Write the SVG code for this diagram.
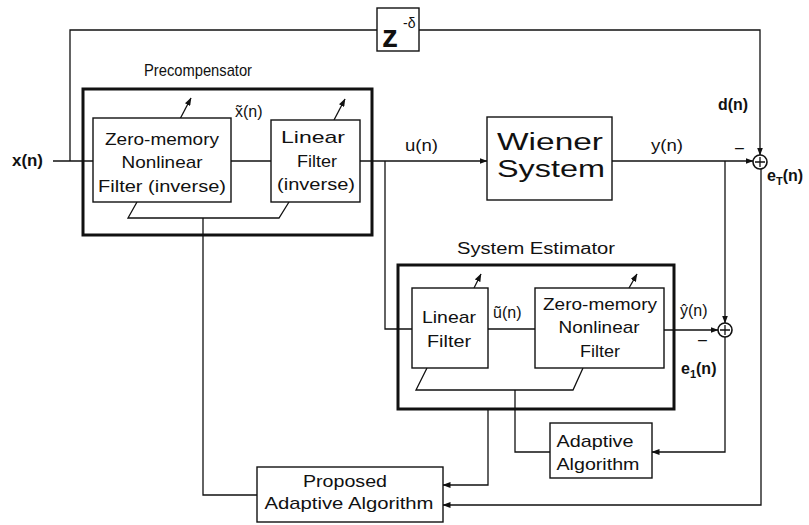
<svg xmlns="http://www.w3.org/2000/svg" width="809" height="525" viewBox="0 0 809 525">
<defs>
<style>
text{font-family:"Liberation Sans",Arial,Helvetica,sans-serif;fill:#111;}
.box{fill:#fff;stroke:#111;stroke-width:1.4;}
.thick{fill:none;stroke:#111;stroke-width:3;}
.w{fill:none;stroke:#111;stroke-width:1.3;}
.bt{font-size:17px;text-anchor:middle;}
.lb{font-size:16px;}
.big{font-size:23px;text-anchor:middle;}
.sum{fill:#fff;stroke:#111;stroke-width:1.6;}
</style>
<marker id="ah" markerWidth="8" markerHeight="6" refX="7.5" refY="3" orient="auto" markerUnits="userSpaceOnUse">
<path d="M0,0 L8,3 L0,6 Z" fill="#111"/>
</marker>
</defs>
<rect width="809" height="525" fill="#fff"/>

<g id="connectors">
<polyline class="w" points="70,161 70,30 377,30"/>
<polyline class="w" points="419,30 760,30 760,155" marker-end="url(#ah)"/>
<line class="w" x1="53" y1="161" x2="93" y2="161"/>
<line class="w" x1="231" y1="161" x2="271" y2="161"/>
<line class="w" x1="360" y1="161" x2="487" y2="161" marker-end="url(#ah)"/>
<polyline class="w" points="385,161 385,329 412,329"/>
<line class="w" x1="612" y1="161" x2="753" y2="161" marker-end="url(#ah)"/>
<line class="w" x1="725" y1="161" x2="725" y2="323" marker-end="url(#ah)"/>
<line class="w" x1="488" y1="329" x2="535" y2="329"/>
<line class="w" x1="664" y1="330" x2="718" y2="330" marker-end="url(#ah)"/>
<polyline class="w" points="725,337 725,452 652,452" marker-end="url(#ah)"/>
<polyline class="w" points="137,202 128,218 279,218 289,202"/>
<polyline class="w" points="203,218 203,495 257,495"/>
<polyline class="w" points="427,368 416,390 573,390 583,368"/>
<polyline class="w" points="515,390 515,452 550,452"/>
<polyline class="w" points="488,409 488,485 443,485" marker-end="url(#ah)"/>
<polyline class="w" points="761,169 761,505 443,505" marker-end="url(#ah)"/>
<line class="w" x1="180" y1="119" x2="191" y2="98" marker-end="url(#ah)"/>
<line class="w" x1="334" y1="120" x2="345" y2="99" marker-end="url(#ah)"/>
<line class="w" x1="474" y1="288" x2="481" y2="274" marker-end="url(#ah)"/>
<line class="w" x1="629" y1="288" x2="637" y2="274" marker-end="url(#ah)"/>
</g>

<g id="precompensator">
<rect class="thick" x="83" y="89" width="289" height="146"/>
<text class="bt" x="198" y="76" textLength="108" lengthAdjust="spacingAndGlyphs">Precompensator</text>
</g>
<g id="zm-inverse">
<rect class="box" x="93" y="118" width="138" height="84"/>
<text class="bt" x="162" y="145" textLength="114" lengthAdjust="spacingAndGlyphs">Zero-memory</text>
<text class="bt" x="162" y="168" textLength="81" lengthAdjust="spacingAndGlyphs">Nonlinear</text>
<text class="bt" x="162" y="192" textLength="128" lengthAdjust="spacingAndGlyphs">Filter (inverse)</text>
</g>
<g id="lf-inverse">
<rect class="box" x="271" y="120" width="89" height="82"/>
<text class="bt" x="313" y="143" textLength="64" lengthAdjust="spacingAndGlyphs">Linear</text>
<text class="bt" x="317" y="167" textLength="40" lengthAdjust="spacingAndGlyphs">Filter</text>
<text class="bt" x="316" y="190" textLength="78" lengthAdjust="spacingAndGlyphs">(inverse)</text>
</g>
<g id="delay">
<rect class="box" x="377" y="8" width="42" height="43"/>
<text x="382" y="47" font-size="32" font-weight="bold">z</text>
<text x="403" y="28" font-size="14">-δ</text>
</g>
<g id="wiener">
<rect class="box" x="487" y="117" width="125" height="83"/>
<text class="big" x="550" y="150" textLength="106" lengthAdjust="spacingAndGlyphs">Wiener</text>
<text class="big" x="551" y="177" textLength="108" lengthAdjust="spacingAndGlyphs">System</text>
</g>
<g id="system-estimator">
<rect class="thick" x="398" y="265" width="276" height="144"/>
<text class="lb" x="457" y="254" textLength="158" lengthAdjust="spacingAndGlyphs">System Estimator</text>
</g>
<g id="lf-se">
<rect class="box" x="412" y="288" width="76" height="80"/>
<text class="bt" x="449" y="323" textLength="54" lengthAdjust="spacingAndGlyphs">Linear</text>
<text class="bt" x="449" y="347" textLength="44" lengthAdjust="spacingAndGlyphs">Filter</text>
</g>
<g id="zm-se">
<rect class="box" x="535" y="288" width="129" height="80"/>
<text class="bt" x="600" y="310" textLength="114" lengthAdjust="spacingAndGlyphs">Zero-memory</text>
<text class="bt" x="599" y="333" textLength="81" lengthAdjust="spacingAndGlyphs">Nonlinear</text>
<text class="bt" x="600" y="357" textLength="40" lengthAdjust="spacingAndGlyphs">Filter</text>
</g>
<g id="sum-t">
<circle class="sum" cx="760" cy="162" r="7"/>
<path class="w" d="M755,162 H765 M760,157 V167"/>
</g>
<g id="sum-1">
<circle class="sum" cx="725" cy="330" r="7"/>
<path class="w" d="M720,330 H730 M725,325 V335"/>
</g>
<g id="adaptive">
<rect class="box" x="550" y="423" width="102" height="55"/>
<text class="bt" x="595" y="447" textLength="77" lengthAdjust="spacingAndGlyphs">Adaptive</text>
<text class="bt" x="598" y="470" textLength="83" lengthAdjust="spacingAndGlyphs">Algorithm</text>
</g>
<g id="proposed">
<rect class="box" x="257" y="467" width="186" height="55"/>
<text class="bt" x="345" y="487" textLength="84" lengthAdjust="spacingAndGlyphs">Proposed</text>
<text class="bt" x="349" y="509" textLength="169" lengthAdjust="spacingAndGlyphs">Adaptive Algorithm</text>
</g>

<g id="labels">
<text class="lb" x="12" y="166" font-weight="bold" textLength="31" lengthAdjust="spacingAndGlyphs">x(n)</text>
<text class="lb" x="235" y="117">x̃(n)</text>
<text class="lb" x="405" y="151" textLength="33" lengthAdjust="spacingAndGlyphs">u(n)</text>
<text class="lb" x="651" y="151" textLength="32" lengthAdjust="spacingAndGlyphs">y(n)</text>
<text class="lb" x="718" y="110" font-weight="bold" textLength="30" lengthAdjust="spacingAndGlyphs">d(n)</text>
<text class="lb" x="735" y="153">–</text>
<text class="lb" x="767" y="181" font-weight="bold">e<tspan font-size="11" dy="4">T</tspan><tspan dy="-4">(n)</tspan></text>
<text class="lb" x="493" y="318">ũ(n)</text>
<text class="lb" x="680" y="316">ŷ(n)</text>
<text class="lb" x="698" y="345">–</text>
<text class="lb" x="681" y="374" font-weight="bold">e<tspan font-size="11" dy="4">1</tspan><tspan dy="-4">(n)</tspan></text>
</g>
</svg>
